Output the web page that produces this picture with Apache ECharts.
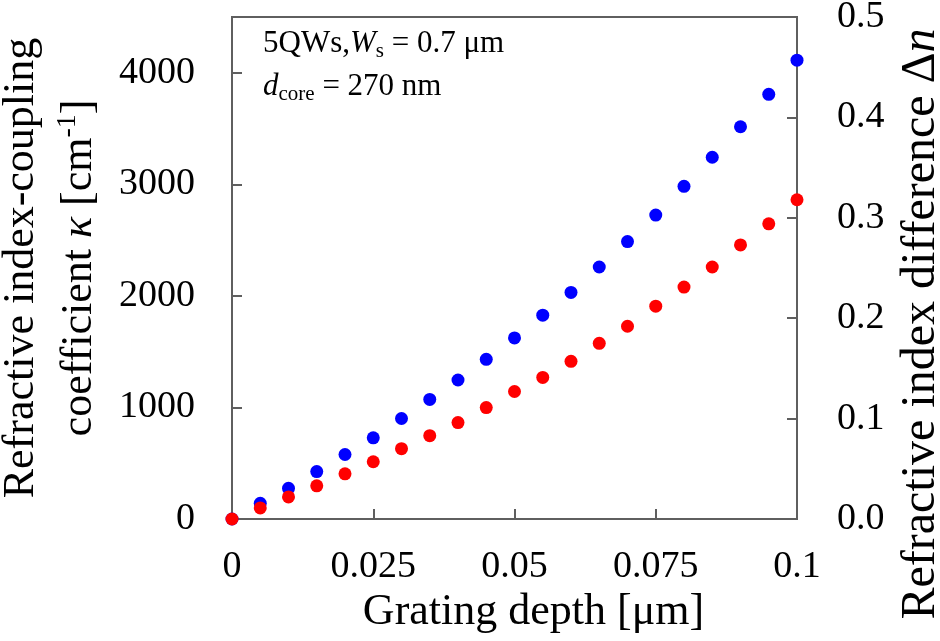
<!DOCTYPE html>
<html>
<head>
<meta charset="utf-8">
<script src="https://cdn.jsdelivr.net/npm/echarts@6/dist/echarts.min.js"></script>
<style>html,body{margin:0;padding:0;background:#fff}#c{width:940px;height:641px}</style>
</head>
<body>
<div id="c"></div>
<script>
const depth = [0, 0.005, 0.01, 0.015, 0.02, 0.025, 0.03, 0.035, 0.04, 0.045, 0.05, 0.055, 0.06, 0.065, 0.07, 0.075, 0.08, 0.085, 0.09, 0.095, 0.1];
const kappa = [0, 141, 275, 425, 578, 728, 901, 1072, 1246, 1431, 1623, 1827, 2031, 2259, 2487, 2724, 2982, 3243, 3516, 3807, 4113];
const deltaN = [0, 0.011, 0.022, 0.033, 0.045, 0.057, 0.070, 0.083, 0.096, 0.111, 0.127, 0.141, 0.157, 0.175, 0.192, 0.212, 0.231, 0.251, 0.273, 0.294, 0.318];
const xTicks = [0, 0.025, 0.05, 0.075, 0.1];
const leftTicks = [0, 1000, 2000, 3000, 4000];
const rightTicks = [0.0, 0.1, 0.2, 0.3, 0.4, 0.5];

const FONT = "'Liberation Serif', 'Times New Roman', serif";
const AX = '#5f5f5f';
const chart = echarts.init(document.getElementById('c'));
const nameRich = {
  n: { fontFamily: FONT, fontSize: 44, color: '#000' },
  i: { fontFamily: FONT, fontSize: 44, fontStyle: 'italic', color: '#000' },
  sup: { fontFamily: FONT, fontSize: 28, color: '#000', padding: [0, 0, 22, 0] }
};
const rightRich = {
  n: { fontFamily: FONT, fontSize: 48, color: '#000' },
  i: { fontFamily: FONT, fontSize: 48, fontStyle: 'italic', color: '#000' }
};
const annRich = {
  n: { fontFamily: FONT, fontSize: 31, color: '#000' },
  i: { fontFamily: FONT, fontSize: 31, fontStyle: 'italic', color: '#000' },
  sub: { fontFamily: FONT, fontSize: 21, color: '#000', padding: [16, 0, 0, 0] }
};
chart.setOption({
  animation: false,
  backgroundColor: '#fff',
  grid: { left: 232, right: 143, top: 17, bottom: 122, outerBoundsMode: 'none', containLabel: false,
    show: true, borderColor: AX, borderWidth: 2, backgroundColor: 'transparent' },
  xAxis: {
    type: 'value', min: 0, max: 0.1, interval: 0.025,
    name: 'Grating depth [μm]', nameLocation: 'middle', nameGap: 64,
    nameTextStyle: { fontFamily: FONT, fontSize: 44, color: '#000', padding: [0, 0, 0, 38] },
    axisLine: { show: true, lineStyle: { color: AX, width: 2 } },
    axisTick: { show: true, inside: true, length: 10, lineStyle: { color: AX, width: 2 } },
    axisLabel: { fontFamily: FONT, fontSize: 38, color: '#000', margin: 29,
      formatter: v => (xTicks.indexOf(v) >= 0 ? String(v) : '') },
    splitLine: { show: false }
  },
  yAxis: [{
    type: 'value', min: 0, max: 4500, interval: 1000, position: 'left',
    name: '{n|Refractive index-coupling}\n{n|coefficient }{i|κ}{n| [cm}{sup|-1}{n|]}',
    nameLocation: 'middle', nameGap: 116, nameRotate: 90,
    nameTextStyle: { fontFamily: FONT, fontSize: 44, color: '#000', lineHeight: 58, rich: nameRich },
    axisLine: { show: true, lineStyle: { color: AX, width: 2 } },
    axisTick: { show: true, inside: true, length: 10, lineStyle: { color: AX, width: 2 } },
    axisLabel: { fontFamily: FONT, fontSize: 38, color: '#000', margin: 37, showMaxLabel: false,
      formatter: v => (leftTicks.indexOf(v) >= 0 ? String(v) : '') },
    splitLine: { show: false }
  }, {
    type: 'value', min: 0, max: 0.5, interval: 0.1, position: 'right',
    name: '{n|Refractive index difference Δ}{i|n}',
    nameLocation: 'middle', nameGap: 100, nameRotate: 90,
    nameTextStyle: { fontFamily: FONT, fontSize: 48, color: '#000', rich: rightRich, padding: [0, 112, 0, 0] },
    axisLine: { show: true, lineStyle: { color: AX, width: 2 } },
    axisTick: { show: true, inside: true, length: 10, lineStyle: { color: AX, width: 2 } },
    axisLabel: { fontFamily: FONT, fontSize: 38, color: '#000', margin: 40,
      formatter: v => { const r = Math.round(v * 10) / 10; return rightTicks.indexOf(r) >= 0 ? r.toFixed(1) : ''; } },
    splitLine: { show: false }
  }],
  graphic: [{
    type: 'text', left: 263, top: 28,
    style: { text: '{n|5QWs,}{i|W}{sub|s}{n| = 0.7 μm}', rich: annRich }
  }, {
    type: 'text', left: 263, top: 71,
    style: { text: '{i|d}{sub|core}{n| = 270 nm}', rich: annRich }
  }],
  series: [{
    type: 'scatter', yAxisIndex: 0, symbol: 'circle', symbolSize: 13,
    itemStyle: { color: '#0000ff', opacity: 1 },
    data: depth.map((d, k) => [d, kappa[k]])
  }, {
    type: 'scatter', yAxisIndex: 1, symbol: 'circle', symbolSize: 13,
    itemStyle: { color: '#ff0000', opacity: 1 },
    data: depth.map((d, k) => [d, deltaN[k]])
  }]
});
</script>
</body>
</html>
